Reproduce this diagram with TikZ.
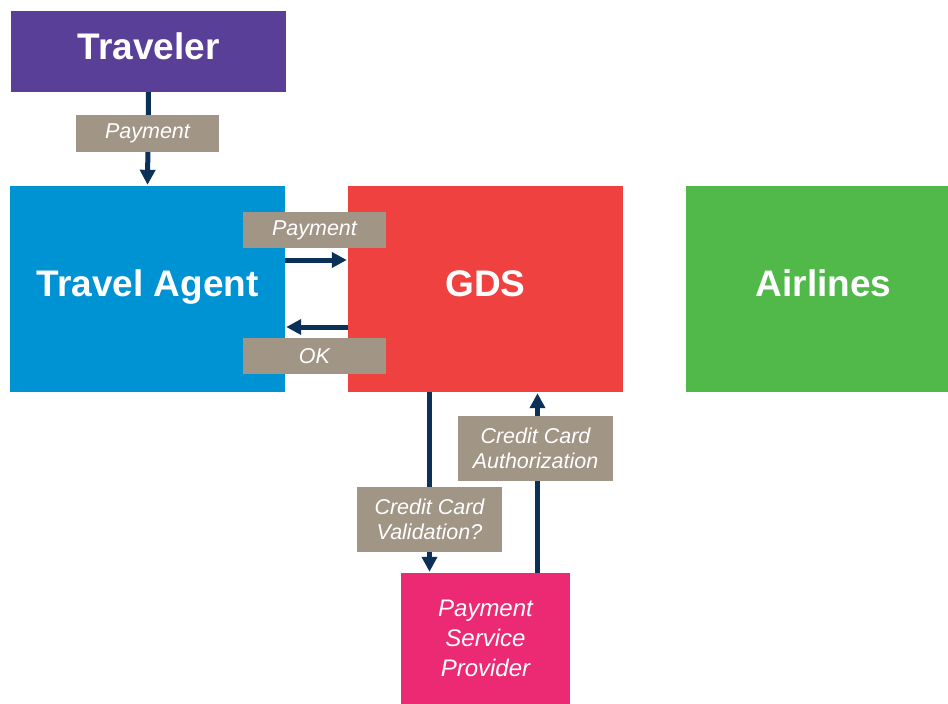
\documentclass[tikz,border=0pt]{standalone}
\usepackage{fontspec}
\setmainfont{Liberation Sans}
\usetikzlibrary{arrows.meta,positioning}

\definecolor{travpurple}{HTML}{593F98}
\definecolor{agentblue}{HTML}{0093D3}
\definecolor{gdsred}{HTML}{EF4140}
\definecolor{airgreen}{HTML}{51B84A}
\definecolor{psppink}{HTML}{EC2A74}
\definecolor{tagtaupe}{HTML}{A19586}
\definecolor{flownavy}{HTML}{0C3158}

\tikzset{
  party/.style={fill=#1, draw=none, text=white, inner sep=0pt, align=center,
    text height=26.5pt, text depth=11.5pt,
    font=\fontsize{37}{40}\selectfont\bfseries},
  tag/.style={fill=tagtaupe, draw=none, text=white, inner sep=0pt, align=center,
    font=\fontsize{21.5}{25.5}\selectfont\itshape},
  flow/.style={draw=flownavy, line width=5pt,
    -{Triangle[length=15pt,width=15pt]}, shorten >=1pt}
}

\begin{document}
\begin{tikzpicture}[x=1pt,y=-1pt]
\useasboundingbox (0,0) rectangle (948,704);

% parties
\node[party=travpurple, minimum width=275pt, minimum height=81pt] (trav) at (148.5,51.5) {Traveler};
\node[party=agentblue, minimum width=275pt, minimum height=206pt] (agent) at (147.5,289) {Travel Agent};
\node[party=gdsred, minimum width=275pt, minimum height=206pt] (gds) at (485.5,289) {GDS};
\node[party=airgreen, minimum width=275pt, minimum height=206pt] (air) at (823.5,289) {Airlines};
\node[fill=psppink, text=white, inner sep=0pt, align=center,
      minimum width=169pt, minimum height=131pt,
      font=\fontsize{24}{30}\selectfont\itshape] (psp) at (485.5,638.5) {Payment\\Service\\Provider};

% message flows
\coordinate (agentPayOut) at ([yshift=29pt]agent.east);
\coordinate (agentOkIn)   at ([yshift=-38pt]agent.east);
\coordinate (gdsValOut)   at ([xshift=-56pt]gds.south);
\coordinate (gdsAuthIn)   at ([xshift=52pt]gds.south);

\draw[flow] (trav.south) -- (agent.north);
\draw[flow] (agentPayOut) -- (agentPayOut -| gds.west);
\draw[flow] (agentOkIn -| gds.west) -- (agentOkIn);
\draw[flow] (gdsValOut) -- (gdsValOut |- psp.north);
\draw[flow] (gdsAuthIn |- psp.north) -- (gdsAuthIn);

% message labels
\node[tag, minimum width=143pt, minimum height=37pt] (tagPay1) at (147.5,133.5) {Payment};
\node[tag, minimum width=143pt, minimum height=36pt] (tagPay2) at (314.5,230) {Payment};
\node[tag, minimum width=143pt, minimum height=36pt] (tagOk) at (314.5,356) {OK};
\node[tag, minimum width=155pt, minimum height=65pt] (tagAuth) at (535.5,448.5) {Credit Card\\Authorization};
\node[tag, minimum width=145pt, minimum height=65pt] (tagVal) at (429.5,519.5) {Credit Card\\Validation?};
\end{tikzpicture}
\end{document}
